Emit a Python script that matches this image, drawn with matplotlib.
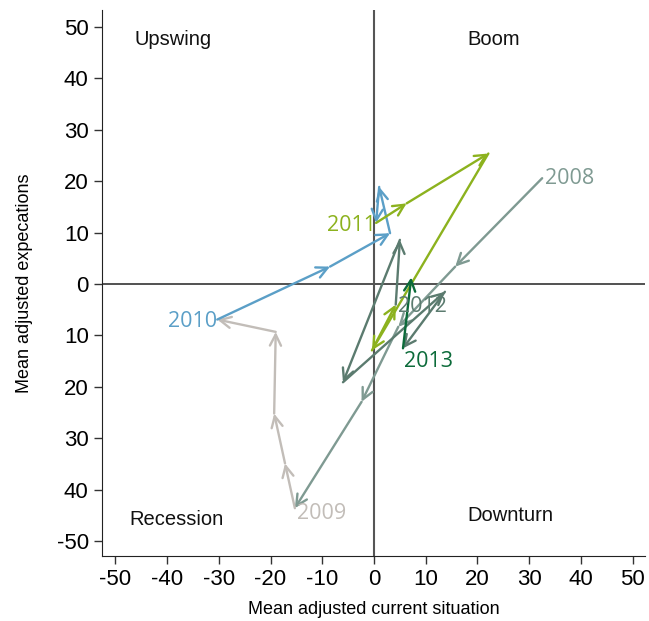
import matplotlib
matplotlib.use("Agg")
import matplotlib.pyplot as plt

# quarterly path, 2008Q1 .. 2013Q2
years = [2008] * 4 + [2009] * 4 + [2010] * 4 + [2011] * 4 + [2012] * 4 + [2013] * 2
current = [32.5, 15.7, 4.7, -2.4,
           -15.3, -17.2, -19.3, -19.0,
           -30.3, -8.5, 3.1, 1.0,
           0.4, 6.3, 22.1, -0.4,
           4.2, 5.0, -6.0, 13.7,
           5.6, 7.2]
expect = [20.6, 3.4, -8.3, -22.9,
          -43.6, -34.9, -25.2, -9.3,
          -6.9, 3.4, 9.9, 18.9,
          11.9, 15.7, 25.4, -12.9,
          -4.0, 8.6, -19.1, -1.5,
          -12.5, 1.3]

year_colors = {2008: "#7f9a92", 2009: "#c2bdb8", 2010: "#5b9fc7",
               2011: "#8cb21e", 2012: "#5b7b6f", 2013: "#0c6b3a"}

# where each year label sits relative to the first quarter of the year
label_offsets = {2008: (0.5, 0, "left"), 2009: (0.4, -1.0, "left"), 2010: (-0.1, -0.3, "right"),
                 2011: (-0.1, -0.6, "right"), 2012: (0.4, -0.4, "left"), 2013: (0.2, -2.5, "left")}

quadrants = ["Upswing", "Boom", "Recession", "Downturn"]
quad_pos = [(-46.3, 47.6), (18.0, 47.6), (-47.3, -45.8), (18.1, -45.1)]

xticks = [-50, -40, -30, -20, -10, 0, 10, 20, 30, 40, 50]
xticklabels = ["-50", "-40", "-30", "-20", "-10", "0", "10", "20", "30", "40", "50"]
yticks = [50, 40, 30, 20, 10, 0, -10, -20, -30, -40, -50]
yticklabels = ["50", "40", "30", "20", "10", "0", "10", "20", "30", "40", "-50"]

plt.rcParams["font.family"] = ["Liberation Sans", "DejaVu Sans"]

fig = plt.figure(figsize=(6.49, 6.21), dpi=100)
ax = fig.add_axes([0.157, 0.1047, 0.837, 0.879])

ax.axhline(0, color="#333333", lw=1.2, zorder=1)
ax.axvline(0, color="#555555", lw=1.5, zorder=1)

for i in range(len(current) - 1):
    c = year_colors[years[i]]
    ax.annotate("", xy=(current[i + 1], expect[i + 1]), xytext=(current[i], expect[i]),
                arrowprops=dict(arrowstyle="->,head_length=0.8,head_width=0.4",
                                color=c, lw=1.7, shrinkA=0, shrinkB=0),
                zorder=3)

seen = set()
for i, yr in enumerate(years):
    if yr in seen:
        continue
    seen.add(yr)
    dx, dy, ha = label_offsets[yr]
    ax.text(current[i] + dx, expect[i] + dy, str(yr), color=year_colors[yr],
            fontsize=15.5, ha=ha, va="center", family=["Open Sans", "DejaVu Sans"], zorder=4)

for name, (qx, qy) in zip(quadrants, quad_pos):
    ax.text(qx, qy, name, fontsize=14.5, ha="left", va="center", color="#111111")

ax.set_xlim(-52.6, 52.4)
ax.set_ylim(-52.9, 53.3)
ax.set_xticks(xticks)
ax.set_xticklabels(xticklabels)
ax.set_yticks(yticks)
ax.set_yticklabels(yticklabels)
ax.tick_params(labelsize=16, length=6, width=1.0, color="#333333", direction="out")
ax.spines["top"].set_visible(False)
ax.spines["right"].set_visible(False)
ax.spines["left"].set_color("#222222")
ax.spines["bottom"].set_color("#222222")
ax.set_xlabel("Mean adjusted current situation", fontsize=13, labelpad=8)
ax.set_ylabel("Mean adjusted expecations", fontsize=13, labelpad=17)

fig.savefig("out.png", dpi=100)
